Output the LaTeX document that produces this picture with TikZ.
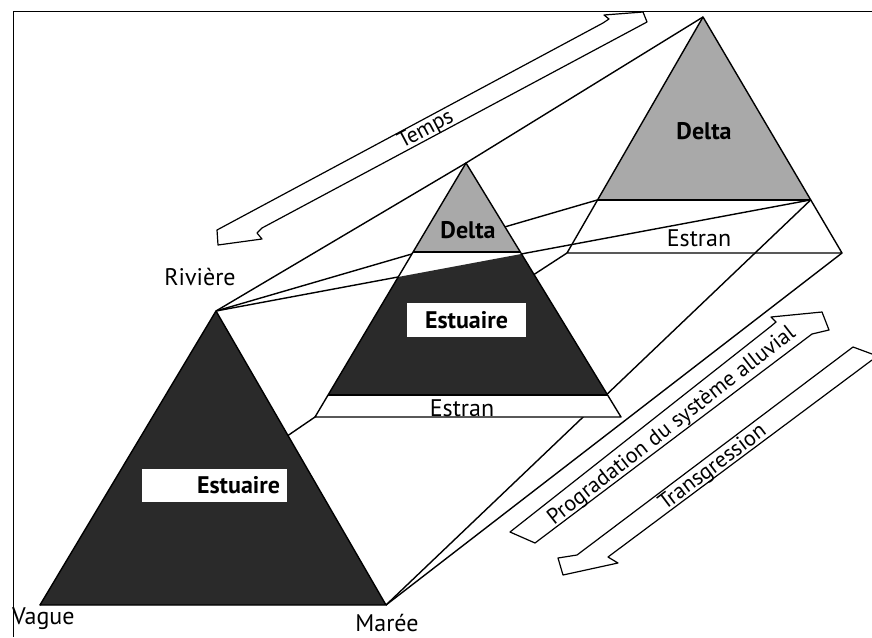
\documentclass[tikz,border=0pt]{standalone}
\usepackage{fontspec}
\setmainfont{PT Sans}
\usetikzlibrary{calc}

\definecolor{fonce}{HTML}{2A2A2A}
\definecolor{gris}{HTML}{A9A9A9}

\begin{document}
\begin{tikzpicture}[x = 1pt, y = -1pt, line join = round,
    trait/.style = { line width = 1.4pt },
    lab/.style = { inner sep = 0pt, font = \fontsize{24}{26}\selectfont },
    zone/.style = { inner sep = 0pt, font = \fontsize{24}{26}\selectfont\bfseries },
    fleche/.style = { line width = 1.2pt, fill = white },
    legende/.style = { inner sep = 0pt, font = \fontsize{22}{24}\selectfont }]
  \useasboundingbox (0, 0) rectangle (872, 637);
  \draw[line width = 1pt] (13, 637) -- (13, 11) -- (872, 11);

  \coordinate (riv) at (216, 311);
  \coordinate (vag) at (40, 605);
  \coordinate (mar) at (386, 605);
  \coordinate (m-top) at (466, 163);
  \coordinate (m-bl) at (315, 417);
  \coordinate (m-br) at (621, 417);
  \coordinate (r-top) at (703, 17);
  \coordinate (r-bl) at (567, 253);
  \coordinate (r-br) at (842, 253);
  \coordinate (m-dl) at ($(m-top)!.35!(m-bl)$);
  \coordinate (m-dr) at ($(m-top)!.35!(m-br)$);
  \coordinate (m-el) at ($(m-top)!.913!(m-bl)$);
  \coordinate (m-er) at ($(m-top)!.913!(m-br)$);
  \coordinate (r-dl) at ($(r-top)!.775!(r-bl)$);
  \coordinate (r-dr) at ($(r-top)!.775!(r-br)$);
  \coordinate (m-nl) at (intersection of riv--r-dr and m-top--m-bl);
  \coordinate (m-nr) at (intersection of riv--r-dr and m-top--m-br);

  \draw[trait] (riv) -- (m-top) -- (r-top);
  \draw[trait] (riv) -- (r-dl);
  \draw[trait] (riv) -- (r-dr);
  \draw[trait] (vag) -- (m-bl) -- (r-bl);
  \draw[trait] (mar) -- (r-dr);
  \draw[trait] (mar) -- (r-br);

  \filldraw[trait, fill = gris] (r-top) -- (r-dl) -- (r-dr) -- cycle;
  \draw[trait] (r-dl) -- (r-bl) -- (r-br) -- (r-dr);
  \draw[line width = 2.2pt] (r-dl) -- (r-dr);

  \fill[white] (m-top) -- (m-bl) -- (m-br) -- cycle;
  \fill[gris] (m-top) -- (m-dl) -- (m-dr) -- cycle;
  \fill[fonce] (m-nl) -- (m-el) -- (m-er) -- (m-nr) -- cycle;
  \draw[trait] (m-top) -- (m-bl) -- (m-br) -- cycle;
  \draw[trait] (m-dl) -- (m-dr);
  \draw[trait] (m-el) -- (m-er);

  \filldraw[trait, fill = fonce] (riv) -- (vag) -- (mar) -- cycle;

  \node[zone, fill = white, minimum width = 145pt, minimum height = 33pt, text width = 131pt, align = right] (estuaire-g) at (214.5, 485.5) {Estuaire};
  \node[zone, fill = white, minimum width = 119pt, minimum height = 34pt] (estuaire-m) at (466.5, 320) {Estuaire};
  \node[zone] (delta-m) at (468, 230) {Delta};
  \node[zone] (delta-r) at (704, 131) {Delta};
  \node[lab] (estran-m) at (462, 408) {Estran};
  \node[lab] (estran-r) at (699, 238) {Estran};
  \node[lab] (riviere) at (200, 277) {Rivière};
  \node[lab, anchor = west] (vague) at (12, 619) {Vague};
  \node[lab] (maree) at (387, 623) {Marée};

  \draw[fleche] (217, 230) -- (603, 23) -- (609, 19) -- (604, 15) -- (643, 12) -- (647, 22)
    -- (262, 228) -- (257, 233) -- (262, 239) -- (218, 245) -- cycle;
  \draw[fleche] (510, 532) -- (770, 327) -- (776, 322) -- (771, 317) -- (822, 312) -- (829, 330)
    -- (812, 334) -- (535, 543) -- cycle;
  \draw[fleche] (872, 354) -- (853, 347) -- (577, 555) -- (558, 558) -- (563, 575) -- (618, 563)
    -- (608, 557) -- (872, 360);

  \node[legende, rotate = 28] (temps) at (426, 130) {Temps};
  \node[legende, rotate = 38] (progradation) at (672, 426) {Progradation du système alluvial};
  \node[legende, rotate = 37] (transgression) at (713, 468) {Transgression};
\end{tikzpicture}
\end{document}
